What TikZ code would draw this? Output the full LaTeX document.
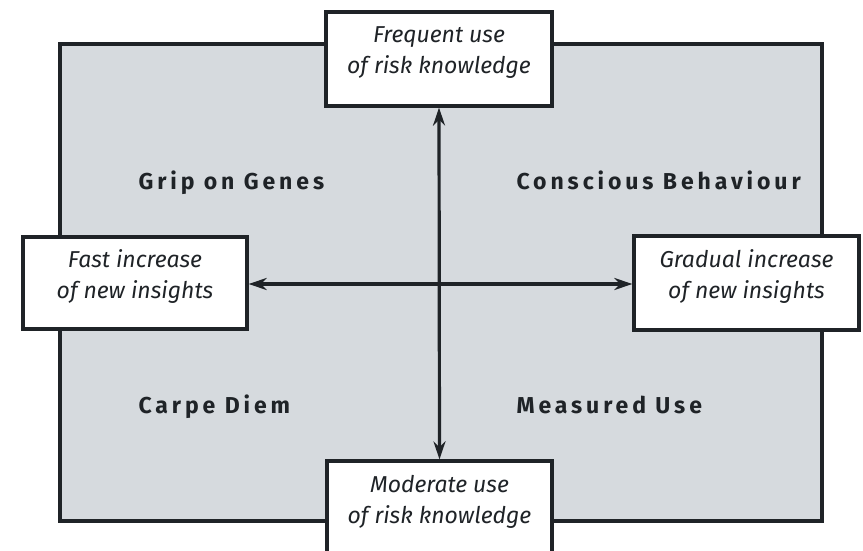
\documentclass[tikz,border=0pt]{standalone}
\usepackage{fontspec}
\setmainfont{Fira Sans}
\usetikzlibrary{arrows.meta}
\definecolor{panel}{HTML}{D6DADE}
\definecolor{ink}{HTML}{1F2327}
\tikzset{
  x=1pt, y=-1pt,
  panelbox/.style={draw=ink, line width=3.4pt, fill=panel},
  labelbox/.style={draw=ink, line width=3.2pt, fill=white, inner sep=0pt},
  boxtext/.style={align=center, inner sep=0pt, text=ink, yshift=6pt,
    font=\fontsize{23}{31}\selectfont\itshape},
  quad/.style={anchor=base west, text=ink,
    font=\fontsize{23}{26}\selectfont\bfseries\addfontfeatures{LetterSpace=17}},
  axis/.style={draw=ink, line width=3.2pt, {Stealth[length=18pt,width=12pt]}-{Stealth[length=18pt,width=12pt]}}
}
\begin{document}
\begin{tikzpicture}
\useasboundingbox (0,0) rectangle (863,551);
\draw[panelbox] (60,44) rectangle (822,521);
\node[labelbox, minimum width=226pt, minimum height=94pt] (top) at (439,59) {};
\node[labelbox, minimum width=225pt, minimum height=94pt] (bot) at (439.5,508) {};
\node[labelbox, minimum width=224pt, minimum height=92pt] (left) at (135,283) {};
\node[labelbox, minimum width=225pt, minimum height=94pt] (right) at (746.5,283) {};
\node[boxtext] (toptxt) at (top.center) {Frequent use\\of risk knowledge};
\node[boxtext] (bottxt) at (bot.center) {Moderate use\\of risk knowledge};
\node[boxtext] (lefttxt) at (left.center) {Fast increase\\of new insights};
\node[boxtext] (righttxt) at (right.center) {Gradual increase\\of new insights};
\coordinate (c) at (439,284);
\draw[axis] (top.south) -- (bot.north);
\draw[axis] (left.east |- c) -- (right.west |- c);
\node[quad] (gg) at (135,189) {Grip on Genes};
\node[quad] (cb) at (513,189) {Conscious Behaviour};
\node[quad] (cd) at (135,413) {Carpe Diem};
\node[quad] (mu) at (513,413) {Measured Use};
\end{tikzpicture}
\end{document}
